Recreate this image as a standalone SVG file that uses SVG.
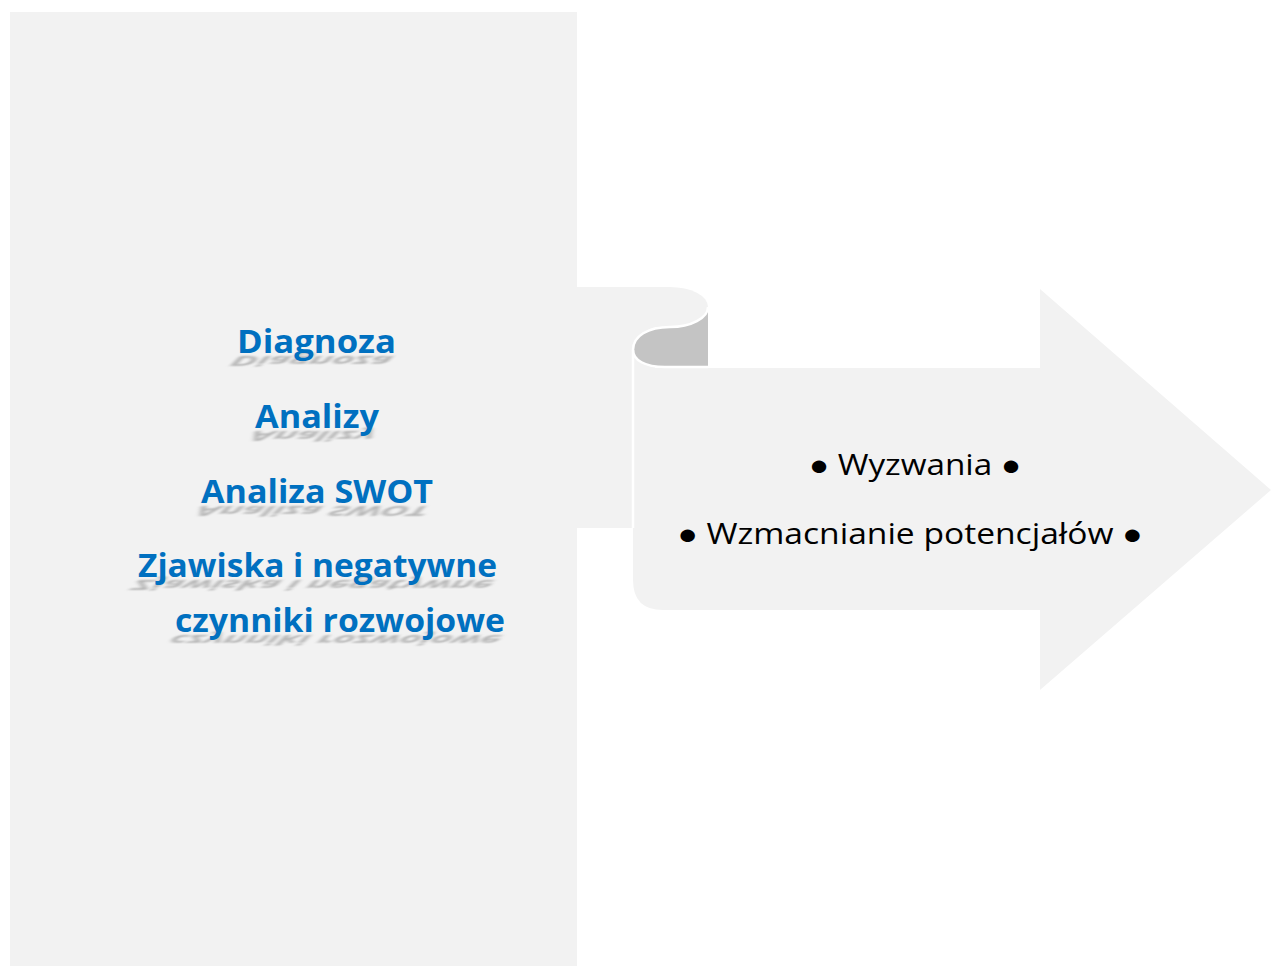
<svg xmlns="http://www.w3.org/2000/svg" width="1271" height="966" viewBox="0 0 1271 966">
  <defs>
    <filter id="blur" x="-10%" y="-60%" width="120%" height="220%">
      <feGaussianBlur stdDeviation="2"/>
    </filter>
    <style>
      .panel { fill: #f2f2f2; }
      .curl { fill: #c4c4c4; }
      .edge { fill: none; stroke: #ffffff; stroke-width: 2.5; }
      .blue { font-family: "Open Sans", "Liberation Sans", sans-serif; font-weight: 700; font-size: 32px; fill: #0070c0; text-anchor: middle; }
      .shadow { font-family: "Open Sans", "Liberation Sans", sans-serif; font-weight: 700; font-size: 32px; fill: #808080; opacity: 0.55; text-anchor: middle; filter: url(#blur); }
      .dark { font-family: "Open Sans", "Liberation Sans", sans-serif; font-size: 29px; fill: #000000; text-anchor: middle; }
    </style>
  </defs>

  <rect width="1271" height="966" fill="#ffffff"/>

  <g id="left-panel">
    <rect class="panel" x="10" y="12" width="567" height="954"/>
  </g>

  <g id="scroll-arrow">
    <rect class="panel" x="575" y="315" width="80" height="213"/>
    <path class="panel" d="M575,287 H670 A38,20 0 0 1 670,327 H575 Z"/>
    <path class="panel" d="M633,368 H1040 V289 L1271,490 L1040,690 V610 H663 Q633,610 633,580 Z"/>
    <path class="curl" d="M708,307 A38,20 0 0 1 670,327 C648,327 633,336 633,350 C633,360 645,367 665,367 H708 Z"/>
    <path class="edge" d="M708,307 A38,20 0 0 1 670,327 C648,327 633,336 633,350 C633,360 645,367 665,367 H708"/>
    <path class="edge" d="M633,350 V528"/>
  </g>

  <g id="left-texts">
    <g transform="translate(316.5,356) matrix(1 0 0.45 -0.45 0 0)"><text class="shadow" x="0" y="0" textLength="159" lengthAdjust="spacingAndGlyphs">Diagnoza</text></g>
    <text class="blue" x="316.5" y="353" textLength="159" lengthAdjust="spacingAndGlyphs">Diagnoza</text>

    <g transform="translate(317,431) matrix(1 0 0.45 -0.45 0 0)"><text class="shadow" x="0" y="0" textLength="124" lengthAdjust="spacingAndGlyphs">Analizy</text></g>
    <text class="blue" x="317" y="428" textLength="124" lengthAdjust="spacingAndGlyphs">Analizy</text>

    <g transform="translate(317,506) matrix(1 0 0.45 -0.45 0 0)"><text class="shadow" x="0" y="0" textLength="232" lengthAdjust="spacingAndGlyphs">Analiza SWOT</text></g>
    <text class="blue" x="317" y="503" textLength="232" lengthAdjust="spacingAndGlyphs">Analiza SWOT</text>

    <g transform="translate(317.5,580) matrix(1 0 0.45 -0.45 0 0)"><text class="shadow" x="0" y="0" textLength="359" lengthAdjust="spacingAndGlyphs">Zjawiska i negatywne</text></g>
    <text class="blue" x="317.5" y="577" textLength="359" lengthAdjust="spacingAndGlyphs">Zjawiska i negatywne</text>

    <g transform="translate(340,635) matrix(1 0 0.45 -0.45 0 0)"><text class="shadow" x="0" y="0" textLength="330" lengthAdjust="spacingAndGlyphs">czynniki rozwojowe</text></g>
    <text class="blue" x="340" y="632" textLength="330" lengthAdjust="spacingAndGlyphs">czynniki rozwojowe</text>
  </g>

  <g id="right-texts">
    <text class="dark" x="915" y="475" textLength="212" lengthAdjust="spacingAndGlyphs">● Wyzwania ●</text>
    <text class="dark" x="910" y="544" textLength="465" lengthAdjust="spacingAndGlyphs">● Wzmacnianie potencjałów ●</text>
  </g>
</svg>
